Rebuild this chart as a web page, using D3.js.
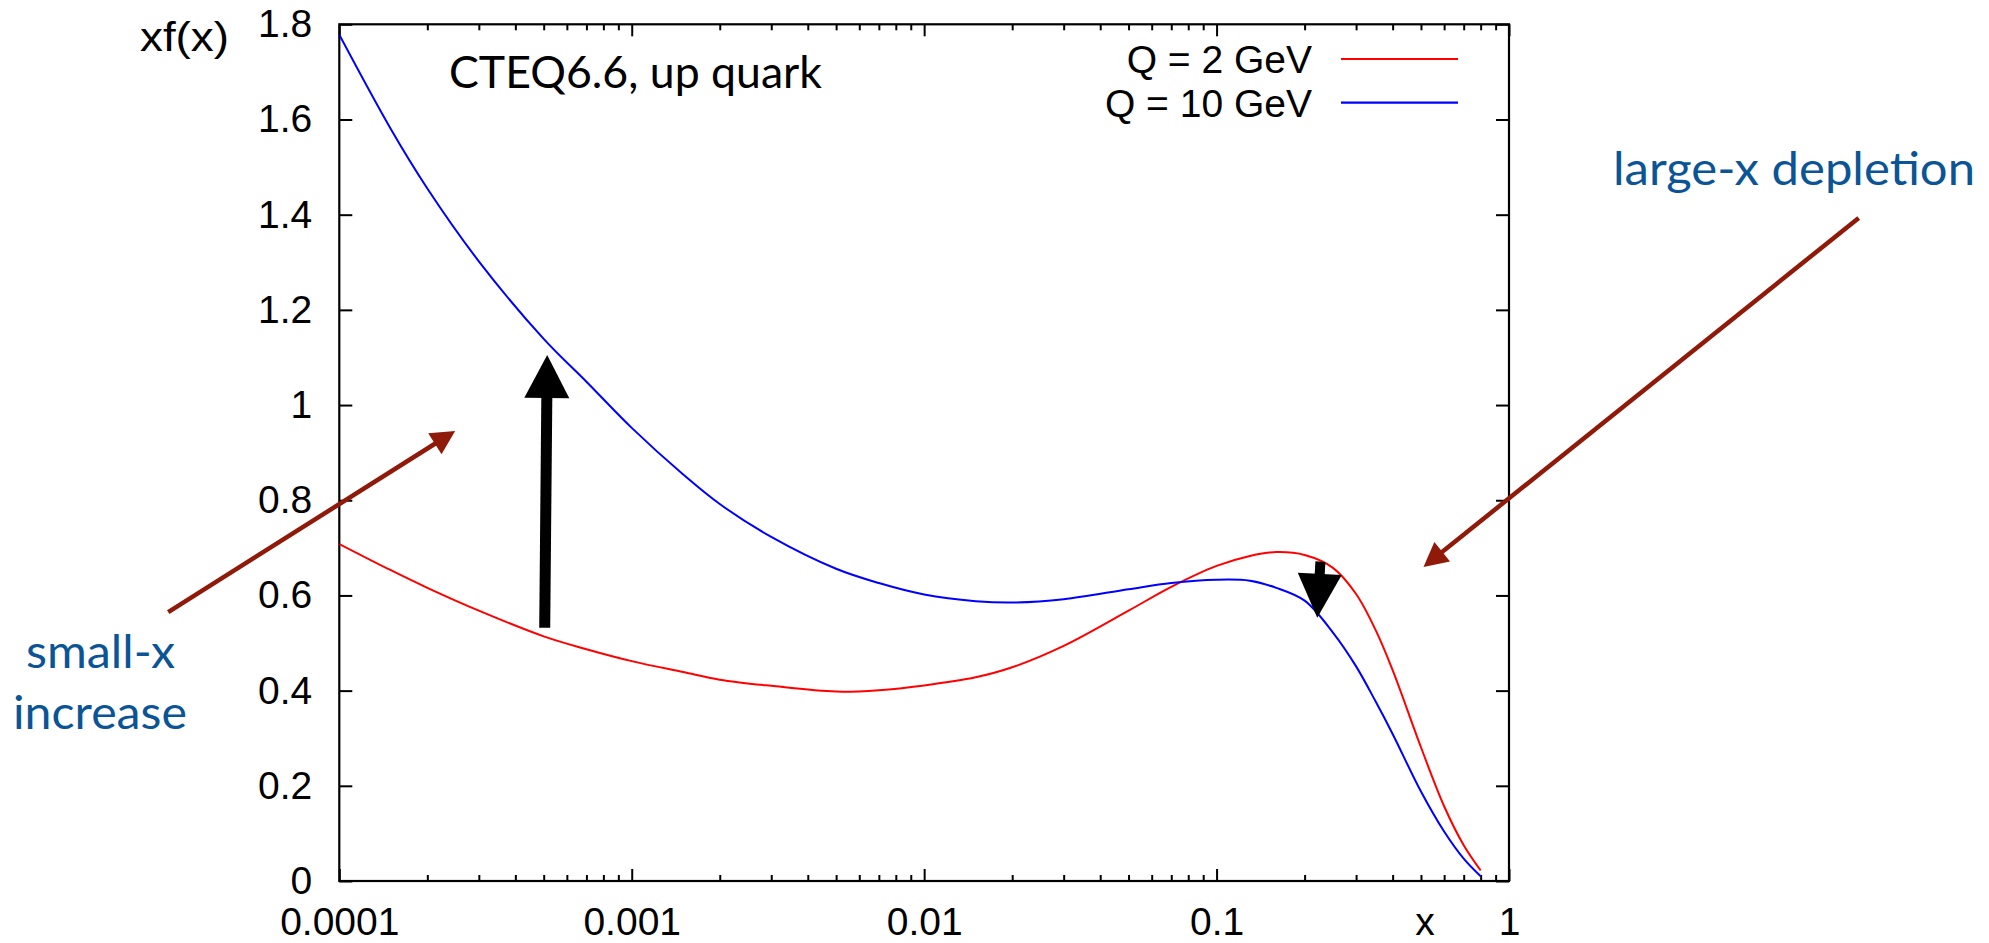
<!DOCTYPE html>
<html>
<head>
<meta charset="utf-8">
<script src="https://cdn.jsdelivr.net/npm/d3@7"></script>
<style>
  html, body { margin: 0; padding: 0; background: #fff; }
  svg { display: block; }
  .tick text { font-family: "Liberation Sans", Arial, sans-serif; }
</style>
</head>
<body>
<svg id="chart" width="1989" height="943"></svg>
<script>
// Momentum fraction grid (log spaced) shared by both curves
const xGrid = [1e-4, 1.5e-4, 2e-4, 3e-4, 5e-4, 7e-4, 1e-3, 1.5e-3, 2e-3, 3e-3, 5e-3, 7e-3,
               0.01, 0.015, 0.02, 0.03, 0.05, 0.07, 0.1, 0.13, 0.16, 0.2, 0.25, 0.3,
               0.35, 0.4, 0.5, 0.6, 0.7, 0.8];

// x f(x) for the up quark at Q = 2 GeV
const upQ2 = [0.708, 0.653, 0.616, 0.568, 0.514, 0.487, 0.462, 0.439, 0.423, 0.410, 0.398, 0.401,
              0.411, 0.428, 0.449, 0.494, 0.568, 0.618, 0.662, 0.683, 0.691, 0.685, 0.658, 0.603,
              0.527, 0.443, 0.281, 0.157, 0.075, 0.022];

// x f(x) for the up quark at Q = 10 GeV
const upQ10 = [1.778, 1.580, 1.455, 1.302, 1.139, 1.049, 0.952, 0.854, 0.792, 0.723, 0.656, 0.626,
               0.602, 0.588, 0.585, 0.592, 0.613, 0.626, 0.633, 0.631, 0.616, 0.589, 0.522, 0.451,
               0.377, 0.309, 0.188, 0.104, 0.047, 0.010];

const seriesNames = ["Q = 2 GeV", "Q = 10 GeV"];
const seriesColors = ["#ff0000", "#0000ff"];

const xTickValues = [1e-4, 1e-3, 1e-2, 1e-1, 1];
const xTickLabels = ["0.0001", "0.001", "0.01", "0.1", "1"];
const yTickValues = [0, 0.2, 0.4, 0.6, 0.8, 1, 1.2, 1.4, 1.6, 1.8];
const yTickLabels = ["0", "0.2", "0.4", "0.6", "0.8", "1", "1.2", "1.4", "1.6", "1.8"];

// Evolution arrows, in data coordinates: [x0, y0, x1, y1]
const smallXShift = [5.04e-4, 0.532, 5.14e-4, 1.105];
const largeXShift = [0.2265, 0.671, 0.221, 0.553];
// Pointer arrows from the side notes, in data coordinates
const smallXPointer = [2.6e-5, 0.565, 2.49e-4, 0.9456];
const largeXPointer = [15.7, 1.393, 0.51, 0.66];

const svg = d3.select("#chart");
const plot = { left: 339.3, right: 1509, top: 24.3, bottom: 881 };

const x = d3.scaleLog().domain([1e-4, 1]).range([plot.left, plot.right]);
const y = d3.scaleLinear().domain([0, 1.8]).range([plot.bottom, plot.top]);

// Minor x ticks: 2..9 within each decade
const minorX = [];
for (let e = -4; e < 0; e++) {
  for (let m = 2; m <= 9; m++) minorX.push(m * Math.pow(10, e));
}

const axisG = svg.append("g");

// Bottom axis with inward ticks and labels
const xAxis = d3.axisBottom(x).tickValues(xTickValues)
  .tickFormat((d, i) => xTickLabels[i])
  .tickSizeInner(-12).tickSizeOuter(0).tickPadding(26);
const gx = axisG.append("g").attr("transform", `translate(0,${plot.bottom})`).call(xAxis);
gx.select(".domain").remove();
gx.selectAll("text").attr("font-size", 39).attr("fill", "#000");

const xMinorB = d3.axisBottom(x).tickValues(minorX).tickFormat("").tickSizeInner(-6).tickSizeOuter(0);
axisG.append("g").attr("transform", `translate(0,${plot.bottom})`).call(xMinorB).select(".domain").remove();

// Mirrored top ticks
const xTop = d3.axisTop(x).tickValues(xTickValues).tickFormat("").tickSizeInner(-12).tickSizeOuter(0);
axisG.append("g").attr("transform", `translate(0,${plot.top})`).call(xTop).select(".domain").remove();
const xMinorT = d3.axisTop(x).tickValues(minorX).tickFormat("").tickSizeInner(-6).tickSizeOuter(0);
axisG.append("g").attr("transform", `translate(0,${plot.top})`).call(xMinorT).select(".domain").remove();

// Left axis
const yAxis = d3.axisLeft(y).tickValues(yTickValues)
  .tickFormat((d, i) => yTickLabels[i])
  .tickSizeInner(-13).tickSizeOuter(0).tickPadding(27);
const gy = axisG.append("g").attr("transform", `translate(${plot.left},0)`).call(yAxis);
gy.select(".domain").remove();
gy.selectAll("text").attr("font-size", 39).attr("fill", "#000");

// Mirrored right ticks
const yRight = d3.axisRight(y).tickValues(yTickValues).tickFormat("").tickSizeInner(-13).tickSizeOuter(0);
axisG.append("g").attr("transform", `translate(${plot.right},0)`).call(yRight).select(".domain").remove();

axisG.selectAll(".tick line").attr("stroke", "#000").attr("stroke-width", 2);

// Frame
svg.append("rect")
  .attr("x", plot.left).attr("y", plot.top)
  .attr("width", plot.right - plot.left).attr("height", plot.bottom - plot.top)
  .attr("fill", "none").attr("stroke", "#000").attr("stroke-width", 2.2);

// Axis titles
svg.append("text").attr("x", 140).attr("y", 51)
  .attr("font-family", "Liberation Sans, Arial, sans-serif").attr("font-size", 40)
  .attr("textLength", 89).attr("lengthAdjust", "spacingAndGlyphs")
  .text("xf(x)");
svg.append("text").attr("x", plot.right - 84).attr("y", 935)
  .attr("text-anchor", "middle")
  .attr("font-family", "Liberation Sans, Arial, sans-serif").attr("font-size", 39)
  .text("x");

// Curves
const line = d3.line()
  .x((d, i) => x(xGrid[i]))
  .y(d => y(d))
  .curve(d3.curveCatmullRom.alpha(0.5));

svg.append("clipPath").attr("id", "plotClip").append("rect")
  .attr("x", plot.left).attr("y", plot.top - 2)
  .attr("width", plot.right - plot.left).attr("height", plot.bottom - plot.top + 2);

const curves = svg.append("g").attr("clip-path", "url(#plotClip)");
[upQ2, upQ10].forEach((vals, k) => {
  curves.append("path").datum(vals)
    .attr("d", line)
    .attr("fill", "none")
    .attr("stroke", seriesColors[k])
    .attr("stroke-width", 2);
});

// Legend
const legend = svg.append("g");
seriesNames.forEach((name, k) => {
  const baseY = 73 + k * 43.7;
  legend.append("text")
    .attr("x", 1312).attr("y", baseY)
    .attr("text-anchor", "end")
    .attr("font-family", "Liberation Sans, Arial, sans-serif").attr("font-size", 39)
    .text(name);
  legend.append("line")
    .attr("x1", 1341).attr("x2", 1458)
    .attr("y1", baseY - 14).attr("y2", baseY - 14)
    .attr("stroke", seriesColors[k]).attr("stroke-width", 2.2);
});

// Plot title
svg.append("text").attr("x", 449).attr("y", 88)
  .attr("font-family", "Lato, 'Open Sans', sans-serif").attr("font-size", 44)
  .attr("textLength", 373).attr("lengthAdjust", "spacingAndGlyphs")
  .text("CTEQ6.6, up quark");

// Block arrow: straight shaft plus a triangular head
function blockArrow(g, seg, shaftW, headW, headL, color) {
  const x0 = x(seg[0]), y0 = y(seg[1]), x1 = x(seg[2]), y1 = y(seg[3]);
  const dx = x1 - x0, dy = y1 - y0;
  const len = Math.hypot(dx, dy);
  const ux = dx / len, uy = dy / len;
  const px = -uy, py = ux;
  const bx = x1 - ux * headL, by = y1 - uy * headL;
  g.append("line")
    .attr("x1", x0).attr("y1", y0).attr("x2", bx + ux * 1).attr("y2", by + uy * 1)
    .attr("stroke", color).attr("stroke-width", shaftW);
  g.append("path")
    .attr("d", `M${x1},${y1}L${bx + px * headW / 2},${by + py * headW / 2}L${bx - px * headW / 2},${by - py * headW / 2}Z`)
    .attr("fill", color);
}

const arrows = svg.append("g");
blockArrow(arrows, smallXShift, 11, 45, 43, "#000");
blockArrow(arrows, largeXShift, 10, 44, 44, "#000");
blockArrow(arrows, smallXPointer, 4.5, 25, 24, "#8f1a0a");
blockArrow(arrows, largeXPointer, 4.5, 25, 24, "#8f1a0a");

// Side notes
const noteColor = "#0b5596";
const notes = svg.append("g")
  .attr("font-family", "Lato, 'Open Sans', sans-serif")
  .attr("font-size", 46).attr("fill", noteColor);
notes.append("text").attr("x", 26).attr("y", 668)
  .attr("textLength", 149).attr("lengthAdjust", "spacingAndGlyphs").text("small-x");
notes.append("text").attr("x", 13).attr("y", 729)
  .attr("textLength", 174).attr("lengthAdjust", "spacingAndGlyphs").text("increase");
notes.append("text").attr("x", 1613).attr("y", 184.5)
  .attr("textLength", 362).attr("lengthAdjust", "spacingAndGlyphs").text("large-x depletion");
</script>
</body>
</html>
